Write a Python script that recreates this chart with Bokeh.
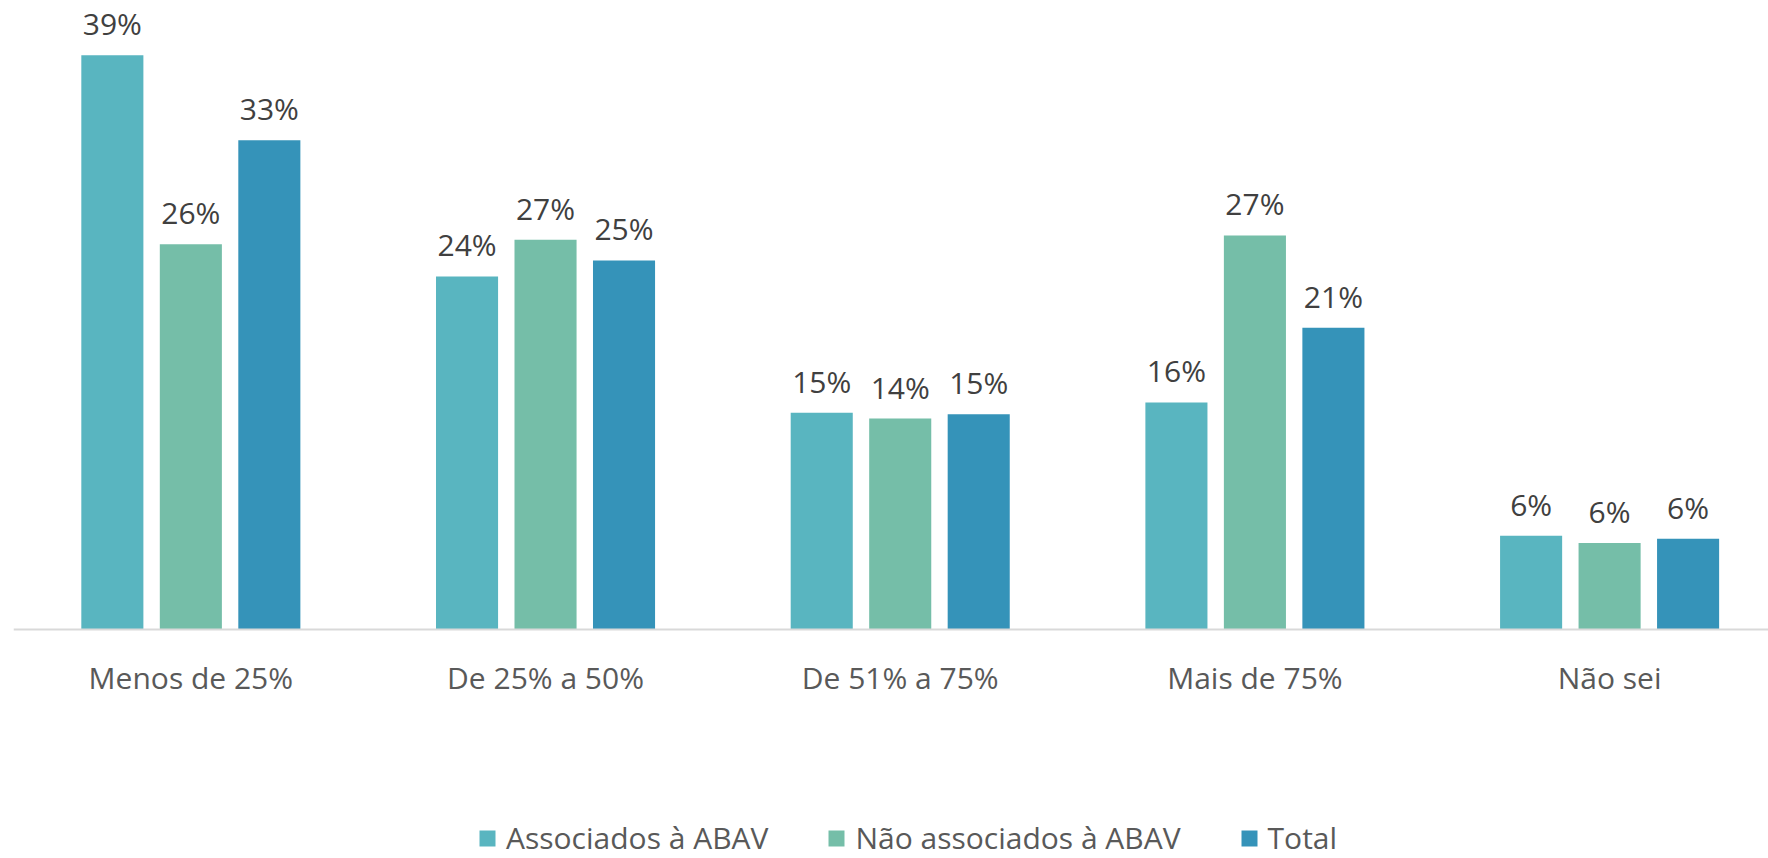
from bokeh.plotting import figure
from bokeh.models import ColumnDataSource, Range1d, LabelSet, Legend, LegendItem, Span
from bokeh.transform import dodge
from bokeh.core.properties import value
from bokeh.embed import file_html
from bokeh.resources import INLINE

categories = ["Menos de 25%", "De 25% a 50%", "De 51% a 75%", "Mais de 75%", "Não sei"]
associados = [39.2, 24.1, 14.8, 15.5, 6.4]
nao_associados = [26.3, 26.6, 14.4, 26.9, 5.9]
total = [33.4, 25.2, 14.7, 20.6, 6.2]
series_names = ["Associados à ABAV", "Não associados à ABAV", "Total"]
colors = ["#59B5C0", "#75BEA8", "#3593B9"]

FONT = "Open Sans"
xpos = [i + 0.5 for i in range(len(categories))]

def fmt(vals):
    return [f"{int(v + 0.5)}%" for v in vals]

src = ColumnDataSource(dict(
    x=xpos, cat=categories, zero=[0] * len(categories),
    a=associados, b=nao_associados, t=total,
    la=fmt(associados), lb=fmt(nao_associados), lt=fmt(total),
))

p = figure(width=1768, height=858, output_backend="svg", toolbar_location=None,
           x_range=Range1d(0, 4.948), y_range=Range1d(-15.63, 42.94),
           min_border_left=13, min_border_right=0, min_border_top=0, min_border_bottom=0)
p.outline_line_color = None
p.background_fill_color = "white"
p.border_fill_color = "white"
p.xgrid.visible = False
p.ygrid.visible = False
p.xaxis.visible = False
p.yaxis.visible = False

# baseline (x axis line)
p.add_layout(Span(location=0, dimension="width", line_color="#D9D9D9", line_width=2))

offsets = [-0.2213, 0.0, 0.2213]
cols = ["a", "b", "t"]
lcols = ["la", "lb", "lt"]
items = []
for off, c, lc, col, name in zip(offsets, cols, lcols, colors, series_names):
    r = p.vbar(x=dodge("x", off, range=p.x_range), top=c, width=0.175, bottom=0,
               source=src, fill_color=col, line_color=None)
    items.append(LegendItem(label=name, renderers=[r]))
    labels = LabelSet(x=dodge("x", off, range=p.x_range), y=c, text=lc, source=src,
                      text_align="center", text_baseline="alphabetic", y_offset=20,
                      text_font=value(FONT), text_font_size=value("30px"), text_color="#404040")
    p.add_layout(labels)

# category labels (x axis tick labels)
cat_labels = LabelSet(x="x", y="zero", text="cat", source=src,
                      text_align="center", text_baseline="alphabetic", y_offset=-59,
                      text_font=value(FONT), text_font_size=value("30px"), text_color="#595959")
p.add_layout(cat_labels)

legend = Legend(items=items, orientation="horizontal", location=(464, 0),
                glyph_width=20, glyph_height=20, label_standoff=9, spacing=58,
                padding=0, margin=0, border_line_color=None, background_fill_alpha=0,
                label_text_font=FONT, label_text_font_size="30px", label_text_color="#595959")
p.add_layout(legend, "center")

open("out.html", "w").write(file_html(p, INLINE))
